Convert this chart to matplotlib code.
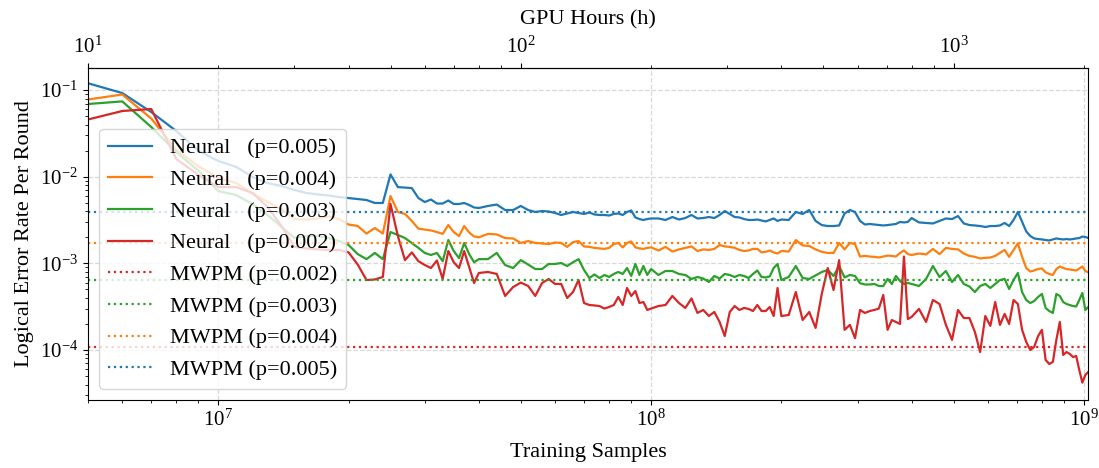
import numpy as np
import matplotlib
matplotlib.use('Agg')
import matplotlib.pyplot as plt

plt.rcParams['font.family'] = ['Liberation Serif', 'DejaVu Serif']
plt.rcParams['mathtext.fontset'] = 'stix'
plt.rcParams['font.size'] = 16
plt.rcParams['xtick.labelsize'] = 15
plt.rcParams['ytick.labelsize'] = 15

# training samples (millions), shared by all neural curves
samples_m = [5, 6, 7, 8, 9, 10, 11, 12, 13, 14, 15, 16, 17, 18, 19, 20, 21, 22, 23, 24,
             25, 26, 27, 28, 29, 30, 31, 32, 33, 34, 35, 36, 37, 38, 39, 40,
             42, 44, 46, 48, 50, 52, 54, 56, 58, 60, 62, 64, 66, 68, 70, 72, 74, 76, 78,
             80, 82, 84, 86, 88, 90, 92, 94, 96, 98, 100,
             104, 108, 112, 116, 120, 124, 128, 132, 136, 140, 144, 148, 152, 156, 160,
             164, 168, 172, 176, 180, 184, 188, 192, 196, 200,
             208, 216, 224, 232, 240, 248, 256, 264, 272, 280, 288, 296, 304, 312, 320,
             328, 336, 344, 352, 360, 368, 376, 384, 392, 400,
             416, 432, 448, 464, 480, 496, 512, 528, 544, 560, 576, 592, 608, 624, 640,
             656, 672, 688, 704, 720, 736, 752, 768, 784, 800, 816, 832, 848, 864, 880,
             896, 912, 928, 944, 960, 976, 992, 1008, 1024]

neural_005 = [0.120, 0.0925, 0.0558, 0.0337, 0.0199, 0.0152, 0.0130, 0.00995, 0.00846, 0.00781,
              0.00703, 0.00649, 0.00624, 0.00607, 0.00583, 0.00568, 0.00553, 0.00539, 0.00498, 0.00498,
              0.01064, 0.00760, 0.00750, 0.00740, 0.00568, 0.00511, 0.00546, 0.00491, 0.00491, 0.00532,
              0.00485, 0.00485, 0.00498, 0.00472, 0.00442, 0.00436,
              0.00460, 0.00478, 0.00413, 0.00413, 0.00460, 0.00413, 0.00392, 0.00402, 0.00397, 0.00382,
              0.00362, 0.00377, 0.00392, 0.00382, 0.00372, 0.00387, 0.00367, 0.00362, 0.00362, 0.00357,
              0.00372, 0.00377, 0.00362, 0.00392, 0.00408, 0.00339, 0.00325, 0.00317, 0.00325, 0.00330,
              0.00330, 0.00317, 0.00343, 0.00321, 0.00334, 0.00362, 0.00330, 0.00334, 0.00343, 0.00334,
              0.00362, 0.00402, 0.00372, 0.00343, 0.00339, 0.00325, 0.00317, 0.00317, 0.00321, 0.00313,
              0.00305, 0.00317, 0.00330, 0.00309, 0.00321,
              0.00317, 0.00392, 0.00372, 0.00413, 0.00309, 0.00277, 0.00270, 0.00270, 0.00274, 0.00377,
              0.00413, 0.00392, 0.00309, 0.00281, 0.00285, 0.00281, 0.00277, 0.00274, 0.00277, 0.00281,
              0.00285, 0.00301, 0.00297, 0.00301, 0.00334,
              0.00297, 0.00293, 0.00289, 0.00309, 0.00330, 0.00325, 0.00352, 0.00289, 0.00277, 0.00274,
              0.00270, 0.00263, 0.00270, 0.00270, 0.00274, 0.00293, 0.00270, 0.00317, 0.00392, 0.00301,
              0.00234, 0.00207, 0.00194, 0.00191, 0.00189, 0.00186, 0.00184, 0.00189, 0.00194, 0.00191,
              0.00189, 0.00191, 0.00189, 0.00191, 0.00194, 0.00196, 0.00204, 0.00202, 0.00196]

neural_004 = [0.0779, 0.0890, 0.0470, 0.0204, 0.0132, 0.00969, 0.00846, 0.00640, 0.00511, 0.00424,
              0.00325, 0.00321, 0.00330, 0.00348, 0.00325, 0.00281, 0.00270, 0.00221, 0.00256, 0.00221,
              0.00599, 0.00392, 0.00372, 0.00309, 0.00252, 0.00246, 0.00240, 0.00230, 0.00219, 0.00277,
              0.00230, 0.00207, 0.00270, 0.00227, 0.00205, 0.00200,
              0.00219, 0.00216, 0.00196, 0.00194, 0.00172, 0.00181, 0.00172, 0.00170, 0.00167, 0.00174,
              0.00172, 0.00155, 0.00176, 0.00181, 0.00157, 0.00155, 0.00151, 0.00149, 0.00147, 0.00151,
              0.00167, 0.00172, 0.00153, 0.00172, 0.00179, 0.00153, 0.00149, 0.00147, 0.00151, 0.00153,
              0.00141, 0.00155, 0.00137, 0.00145, 0.00151, 0.00157, 0.00139, 0.00145, 0.00143, 0.00147,
              0.00163, 0.00157, 0.00155, 0.00151, 0.00143, 0.00139, 0.00141, 0.00147, 0.00147, 0.00134,
              0.00136, 0.00141, 0.00134, 0.00130, 0.00139,
              0.00137, 0.00186, 0.00161, 0.00159, 0.00145, 0.00136, 0.00132, 0.00132, 0.00172, 0.00145,
              0.00172, 0.00167, 0.00120, 0.00122, 0.00120, 0.00119, 0.00117, 0.00120, 0.00123, 0.00122,
              0.00120, 0.00132, 0.00141, 0.00128, 0.00125,
              0.00130, 0.00127, 0.00147, 0.00128, 0.00151, 0.00147, 0.00145, 0.00130, 0.00122, 0.00119,
              0.00114, 0.00116, 0.00117, 0.00122, 0.00132, 0.00143, 0.00119, 0.00143, 0.00170, 0.00119,
              0.000884, 0.000806, 0.000828, 0.000862, 0.000873, 0.000788, 0.000755, 0.000735, 0.000861, 0.000921,
              0.000884, 0.000861, 0.000850, 0.000839, 0.000828, 0.000872, 0.000921, 0.000817, 0.000788]

neural_003 = [0.0691, 0.0741, 0.0375, 0.0193, 0.0117, 0.00684, 0.00615, 0.00485, 0.00362, 0.00263,
              0.00196, 0.00207, 0.00207, 0.00196, 0.00181, 0.00163, 0.00128, 0.00112, 0.00132, 0.00112,
              0.00230, 0.00213, 0.00196, 0.00172, 0.00151, 0.00132, 0.00125, 0.00132, 0.00106, 0.00186,
              0.00139, 0.00115, 0.00172, 0.00128, 0.00103, 0.00112,
              0.00112, 0.00132, 0.000958, 0.000884, 0.00109, 0.000970, 0.000861, 0.000861, 0.000985, 0.000985,
              0.00101, 0.000933, 0.00103, 0.00112, 0.000839, 0.000678, 0.000745, 0.000678, 0.000735, 0.000697,
              0.000755, 0.000796, 0.000755, 0.000884, 0.000716, 0.000985, 0.000735, 0.000933, 0.000735, 0.000861,
              0.000735, 0.000817, 0.000817, 0.000755, 0.000735, 0.000661, 0.000697, 0.000669, 0.000610, 0.000716,
              0.000669, 0.000755, 0.000735, 0.000697, 0.000735, 0.000716, 0.000678, 0.000755, 0.000828, 0.000697,
              0.000688, 0.000707, 0.000884, 0.000985, 0.000643,
              0.000697, 0.000933, 0.000678, 0.000661, 0.000726, 0.000796, 0.000839, 0.000716, 0.000933, 0.000688,
              0.000735, 0.000716, 0.000590, 0.000571, 0.000571, 0.000579, 0.000548, 0.000548, 0.000661, 0.000579,
              0.000716, 0.000626, 0.000579, 0.000594, 0.000579,
              0.000548, 0.000661, 0.000933, 0.000697, 0.000817, 0.000610, 0.000735, 0.000579, 0.000541, 0.000467,
              0.000548, 0.000579, 0.000520, 0.000579, 0.000643, 0.000661, 0.000506, 0.000643, 0.000775, 0.000467,
              0.000378, 0.000349, 0.000368, 0.000410, 0.000444, 0.000306, 0.000282, 0.000268, 0.000444, 0.000421,
              0.000358, 0.000340, 0.000331, 0.000322, 0.000318, 0.000378, 0.000455, 0.000290, 0.000314]

neural_002 = [0.0458, 0.0574, 0.0605, 0.0160, 0.0105, 0.00760, 0.00760, 0.00649, 0.00447, 0.00270,
              0.00155, 0.00149, 0.00145, 0.00143, 0.00143, 0.00134, 0.000970, 0.000643, 0.000652, 0.000697,
              0.00485, 0.00207, 0.00109, 0.00134, 0.00106, 0.000958, 0.000884, 0.00108, 0.000661, 0.00139,
              0.00103, 0.000884, 0.00139, 0.000907, 0.000594, 0.000775,
              0.000796, 0.000755, 0.000421, 0.000533, 0.000601, 0.000548, 0.000421, 0.000594, 0.000661, 0.000579,
              0.000579, 0.000399, 0.000467, 0.000643, 0.000349, 0.000331, 0.000327, 0.000322, 0.000301, 0.000314,
              0.000331, 0.000410, 0.000331, 0.000520, 0.000421, 0.000480, 0.000349, 0.000358, 0.000290, 0.000301,
              0.000322, 0.000331, 0.000421, 0.000349, 0.000306, 0.000394, 0.000268, 0.000290, 0.000247, 0.000275,
              0.000211, 0.000145, 0.000275, 0.000322, 0.000290, 0.000306, 0.000298, 0.000282, 0.000331, 0.000282,
              0.000282, 0.000314, 0.000247, 0.000520, 0.000247,
              0.000254, 0.000467, 0.000222, 0.000275, 0.000180, 0.000444, 0.000884, 0.000493, 0.00109, 0.000171,
              0.000195, 0.000137, 0.000290, 0.000268, 0.000282, 0.000290, 0.000301, 0.000432, 0.000171, 0.000222,
              0.000211, 0.000200, 0.00120, 0.000228, 0.000241,
              0.000298, 0.000211, 0.000378, 0.000340, 0.000195, 0.000131, 0.000290, 0.000234, 0.000234, 0.000162,
              0.0000948, 0.000247, 0.000190, 0.000358, 0.000195, 0.000261, 0.000200, 0.000378, 0.000340, 0.000171,
              0.000124, 0.000100, 0.000109, 0.000145, 0.000171, 0.0000769, 0.0000690, 0.0000730, 0.000131, 0.000211,
              0.0000878, 0.0000948, 0.0000900, 0.0000830, 0.0000855, 0.0000589, 0.0000420, 0.0000516, 0.0000558]

# MWPM baselines
mwpm_p = ['0.002', '0.003', '0.004', '0.005']
mwpm_ler = [1.08e-4, 6.4e-4, 1.73e-3, 3.9e-3]

neural_p = ['0.005', '0.004', '0.003', '0.002']
neural_series = [neural_005, neural_004, neural_003, neural_002]
colors = {'0.005': 'tab:blue', '0.004': 'tab:orange', '0.003': 'tab:green', '0.002': 'tab:red'}

gpu_hours_per_sample = 2e-6  # 5e6 samples <-> 10 h

fig = plt.figure(figsize=(10.99, 4.68), dpi=100)
ax = fig.add_axes([88 / 1099, 68 / 468, 1000.3 / 1099, 332 / 468])

x = np.array(samples_m) * 1e6
for p, ys in zip(neural_p, neural_series):
    ax.plot(x, ys, color=colors[p], lw=1.6, label='Neural   (p=%s)' % p)
for p, v in zip(mwpm_p, mwpm_ler):
    ax.axhline(v, color=colors[p], ls=':', lw=1.6, label='MWPM (p=%s)' % p)

ax.set_xscale('log')
ax.set_yscale('log')
ax.set_xlim(5e6, 1.024e9)
ax.set_ylim(2.65e-5, 0.18)
ax.grid(True, which='major', ls='--', color='#d8d8d8', lw=0.9)
ax.set_xlabel('Training Samples', labelpad=9)
ax.set_ylabel('Logical Error Rate Per Round')

top = ax.secondary_xaxis('top', functions=(lambda s: s * gpu_hours_per_sample,
                                           lambda h: h / gpu_hours_per_sample))
top.set_xticks([10, 100, 1000])
top.set_xlabel('GPU Hours (h)', labelpad=9)

ax.legend(loc='lower left', fontsize=16)

fig.savefig('out.png', dpi=100)
